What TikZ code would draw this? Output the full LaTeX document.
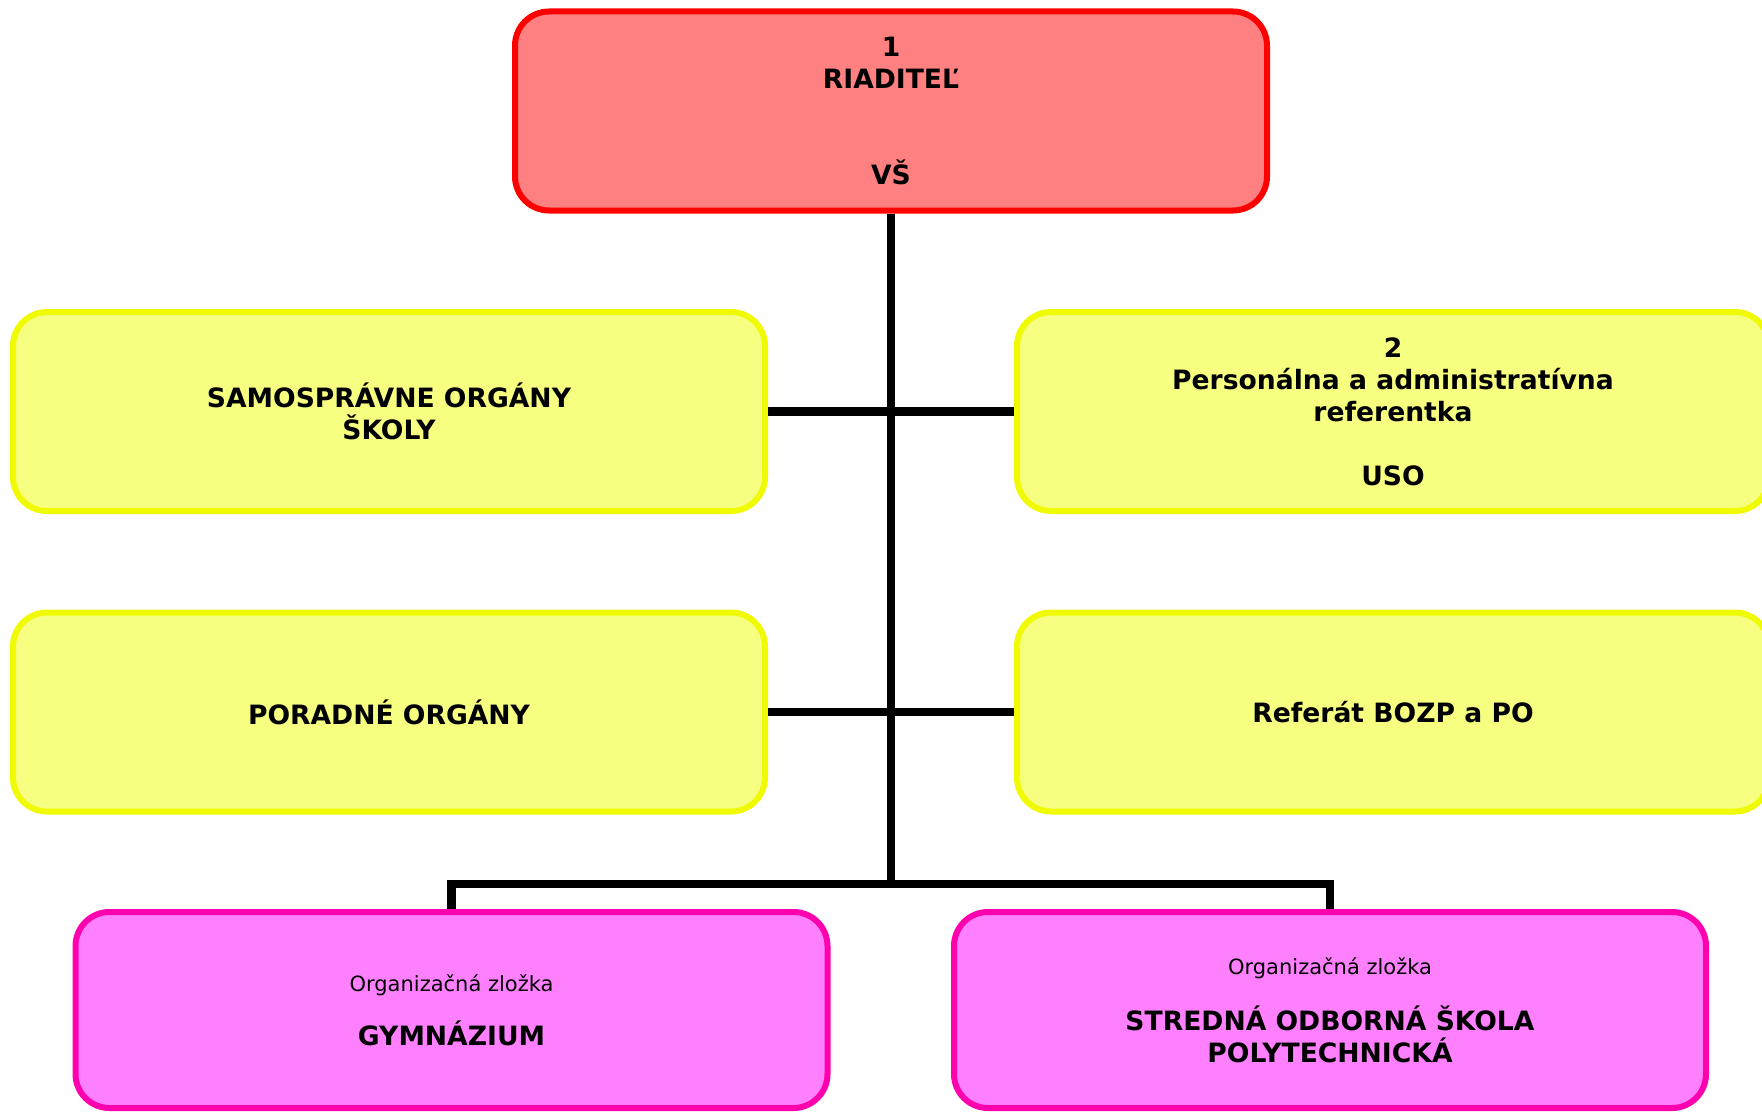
\documentclass[tikz,border=0pt]{standalone}
\usepackage{fontspec}
\setmainfont{DejaVu Sans}
\definecolor{redfill}{RGB}{255,128,128}
\definecolor{redline}{RGB}{255,0,0}
\definecolor{yellowfill}{RGB}{247,255,128}
\definecolor{yellowline}{RGB}{240,250,0}
\definecolor{pinkfill}{RGB}{255,128,255}
\definecolor{pinkline}{RGB}{255,0,175}
\begin{document}
\begin{tikzpicture}[
		x=0.5pt, y=-0.5pt,
		box/.style={rectangle, rounded corners=17pt, line width=3pt, minimum width=376pt, minimum height=99.5pt, inner sep=0pt, align=center, font=\fontsize{13.3}{16}\selectfont\bfseries},
		redbox/.style={box, draw=redline, fill=redfill},
		yellowbox/.style={box, draw=yellowline, fill=yellowfill},
		pinkbox/.style={box, draw=pinkline, fill=pinkfill, minimum height=98pt},
		conn/.style={line width=4.25pt, draw=black}
	]
	\useasboundingbox (0,0) rectangle (1762,1113);
	\clip (0,0) rectangle (1762,1113);
	\node[redbox] (dir) at (891,111) {1\\RIADITEĽ\\[32pt]VŠ};
	\node[yellowbox] (samo) at (389,411.5) {SAMOSPRÁVNE ORGÁNY\\ŠKOLY};
	\node[yellowbox] (pers) at (1393,411.5) {2\\Personálna a administratívna\\referentka\\[16pt]USO};
	\node[yellowbox] (porad) at (389,712) {PORADNÉ ORGÁNY};
	\node[yellowbox] (bozp) at (1393,712) {Referát BOZP a PO};
	\node[pinkbox] (gym) at (451.5,1010) {{\fontsize{10.5}{16}\selectfont\mdseries Organizačná zložka}\\[11pt]GYMNÁZIUM};
	\node[pinkbox] (sos) at (1330,1010) {{\fontsize{10.5}{16}\selectfont\mdseries Organizačná zložka}\\[12pt]STREDNÁ ODBORNÁ ŠKOLA\\POLYTECHNICKÁ};
	% spojnice
	\coordinate (split) at (891,884);
	\draw[conn] (dir.south) -- (split);
	\draw[conn] (gym.north) |- (split) -| (sos.north);
	\draw[conn] (samo.east) -- (pers.west);
	\draw[conn] (porad.east) -- (bozp.west);
\end{tikzpicture}
\end{document}
